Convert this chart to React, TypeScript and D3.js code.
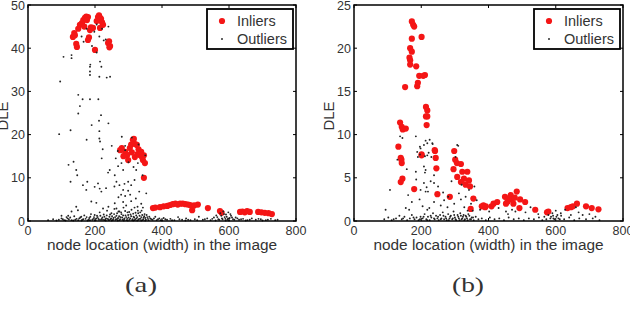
import React from "react";
import * as d3 from "d3";

const xTicks = [0, 200, 400, 600, 800];
const yTicksA = [0, 10, 20, 30, 40, 50];
const yTicksB = [0, 5, 10, 15, 20, 25];
const xLabel = "node location (width) in the image";
const yLabel = "DLE";
const legendLabels = ["Inliers", "Outliers"];

type P = [number, number];

const inliersA: P[] = [
  [134, 42.6], [138, 43.5], [146, 40.3], [144, 41], [140, 43], [150, 44.5], [155, 45.4], [161, 45.8], [165, 46.5],
  [170, 47], [174, 47.3], [179, 47.2], [185, 44.2], [188, 44.8], [179, 41.9], [182, 42.5], [194, 44.7], [200, 39.6],
  [209, 47.2], [212, 47.6], [215, 47], [218, 46.8], [221, 46], [224, 45.4], [215, 44.7], [239, 41.2], [242, 41.6],
  [245, 40.5], [243, 40.2], [168, 45], [176, 46.5], [205, 46.3],
  [275, 16.4], [280, 16.9], [290, 16], [296, 15.3], [304, 16.9], [308, 17.7], [313, 18.8], [316, 19], [320, 17.8],
  [325, 17.6], [330, 16.6], [334, 15.3], [338, 16], [343, 14.1], [346, 15.2], [349, 13.4], [299, 14.1], [319, 14.8],
  [327, 15.5], [310, 15.9], [346, 10], [285, 15], [340, 14.8],
  [373, 3.0], [380, 3.1], [394, 3.2], [405, 3.4], [416, 3.5], [424, 3.7], [432, 3.9], [440, 4.0], [447, 3.8],
  [454, 4.0], [462, 4.0], [470, 3.9], [478, 3.8], [484, 3.7], [490, 2.5], [496, 3.6], [507, 3.8], [537, 3.0],
  [573, 2.3], [578, 1.9], [633, 2.1], [640, 2.2], [647, 2.0], [654, 2.3], [662, 2.1], [687, 2.1], [697, 2.0],
  [707, 1.9], [718, 1.8], [728, 1.6],
];

const outliersA: P[] = [
  [96, 32.3], [106, 38], [130, 38.4], [130, 37.7], [160, 42.7], [166, 41.5], [175, 44.5], [186, 36.2], [185, 35.7],
  [185, 34.6], [185, 33.8], [191, 40.5], [198, 43.8], [205, 45.5], [205, 39], [213, 42.7], [221, 44.5], [226, 41.8],
  [232, 42], [240, 45], [215, 36.9], [219, 35.7], [213, 33.4], [235, 33.2], [245, 33.4], [150, 29.2], [163, 28.2],
  [185, 28.2], [210, 28.2], [155, 26.6], [150, 24.9], [218, 24.5], [212, 23.2], [240, 22.6], [190, 22.2], [127, 21],
  [93, 20.1], [213, 20.8], [175, 18.8], [213, 19.1], [215, 18.4], [250, 17.4], [223, 16.6], [220, 14.5], [121, 13],
  [136, 13.7], [144, 11.8], [147, 10.6], [127, 9.1], [164, 8.3], [177, 9.1], [174, 7.2], [199, 7.9], [209, 8.7],
  [214, 7.5], [219, 6.8], [233, 7.6], [239, 11.2], [244, 11.8], [259, 10.6], [269, 12.7], [279, 13.4], [284, 11.8],
  [264, 9.1], [273, 8.3], [288, 8.6], [299, 9.1], [284, 7.2], [299, 7.0], [308, 8.3], [318, 9.5], [323, 11.8],
  [328, 13.4], [342, 10.6], [353, 6.4], [189, 4.5], [204, 4.2], [224, 2.9], [240, 3.3], [259, 4.1], [264, 2.9],
  [273, 2.2], [284, 4.4], [293, 3.6], [308, 4.6], [318, 3.1], [328, 2.4], [338, 4.0], [149, 2.5], [130, 2.2],
  [144, 3.3], [100, 1.2], [120, 1.2], [270, 5.5], [290, 5.8], [305, 6.1], [332, 6.8], [262, 14.5], [268, 16.2],
  [290, 17.4], [310, 19.3], [330, 17.7], [300, 13.6], [315, 12.5], [350, 15.2], [258, 8.0], [278, 6.1], [322, 5.2],
  [343, 3.1], [280, 19.5], [290, 16.4],
  [92, 0.3], [100, 0.6], [108, 0.2], [115, 0.9], [122, 0.4], [130, 0.2], [138, 1.1], [145, 0.5], [150, 0.2],
  [156, 0.8], [162, 0.3], [168, 1.3], [172, 0.5], [178, 0.1], [183, 0.7], [188, 1.6], [192, 0.3], [197, 0.9],
  [202, 0.2], [206, 1.2], [210, 0.5], [214, 2.0], [218, 0.3], [222, 0.8], [226, 1.5], [229, 0.2], [233, 0.6],
  [236, 2.4], [240, 0.3], [243, 1.0], [246, 0.4], [249, 1.8], [252, 0.2], [255, 0.7], [258, 2.8], [261, 0.3],
  [264, 1.2], [267, 0.5], [270, 2.2], [273, 0.2], [276, 0.9], [279, 1.6], [282, 0.3], [285, 3.1], [288, 0.6],
  [291, 1.3], [294, 0.2], [297, 2.0], [300, 0.8], [303, 0.3], [306, 1.5], [309, 2.6], [312, 0.4], [315, 1.0],
  [318, 0.2], [321, 1.9], [324, 0.6], [327, 3.3], [330, 0.3], [333, 1.2], [336, 0.5], [339, 2.4], [342, 0.2],
  [345, 0.8], [348, 1.6], [352, 0.3], [356, 0.9], [360, 0.2], [365, 0.6], [372, 0.3], [380, 1.0], [388, 0.4],
  [396, 0.2], [405, 0.7], [415, 0.3], [425, 0.5], [437, 0.2], [448, 0.9], [460, 0.3], [472, 0.6], [485, 0.2],
  [498, 0.4], [510, 1.0], [522, 0.3], [535, 0.6], [545, 0.2], [555, 0.8], [562, 1.3], [568, 0.4], [574, 1.8],
  [579, 0.6], [583, 2.2], [587, 0.9], [591, 1.5], [595, 0.3], [598, 2.0], [602, 0.7], [606, 1.2], [612, 0.4],
  [620, 0.8], [630, 0.3], [642, 0.5], [655, 0.2], [668, 0.6], [680, 0.3], [695, 0.4], [710, 0.2], [725, 0.5],
  [738, 0.2], [112, 0.1], [135, 0.1], [160, 0.1], [185, 0.2], [200, 0.1], [232, 0.1], [250, 0.1], [268, 0.1],
  [286, 0.1], [298, 0.1], [314, 0.1], [326, 0.1], [338, 0.1], [350, 0.1], [400, 0.1], [470, 0.1], [560, 0.1],
  [590, 0.1], [600, 0.1], [650, 0.1], [700, 0.1],
  [60, 0.2], [75, 0.4], [85, 0.1], [104, 0.4], [118, 0.6], [126, 0.8], [141, 0.3], [153, 0.6], [159, 1.0],
  [165, 0.4], [175, 0.9], [181, 0.3], [186, 1.0], [195, 0.5], [199, 1.4], [204, 0.6], [208, 0.9], [212, 0.3],
  [216, 1.2], [220, 0.5], [224, 0.3], [228, 1.0], [231, 0.4], [235, 1.3], [238, 0.5], [242, 0.2], [245, 1.5],
  [248, 0.6], [251, 1.1], [254, 0.3], [257, 1.6], [260, 0.9], [263, 0.4], [266, 1.8], [269, 0.7], [272, 1.1],
  [275, 0.4], [278, 2.0], [281, 0.8], [284, 1.3], [287, 0.4], [290, 2.3], [293, 0.9], [296, 0.5], [299, 1.4],
  [302, 2.1], [305, 0.6], [308, 1.1], [311, 0.2], [314, 1.7], [317, 0.8], [320, 0.4], [323, 1.3], [326, 0.9],
  [329, 1.8], [332, 0.5], [335, 2.0], [338, 0.9], [341, 1.4], [344, 0.4], [347, 1.1], [350, 0.7], [354, 1.4],
  [358, 0.5], [362, 1.0], [368, 0.4], [376, 0.6], [384, 0.2], [392, 0.6], [410, 0.4], [430, 0.2], [452, 0.4],
  [478, 0.3], [505, 0.2], [528, 0.4], [550, 0.5], [565, 0.9], [571, 0.3], [577, 1.2], [581, 0.4], [585, 1.6],
  [589, 0.5], [593, 1.0], [597, 0.6], [604, 1.6], [609, 0.8], [616, 0.3], [625, 0.6], [636, 0.4], [662, 0.3],
  [688, 0.5], [716, 0.3], [745, 0.3],
];

const inliersB: P[] = [
  [172, 23.1], [176, 22.7], [179, 22.5], [172, 21.1], [201, 21.3], [167, 20], [172, 19.6], [165, 18.9], [167, 18.6],
  [167, 18.1], [185, 17.9], [152, 15.5], [188, 15.6], [190, 16], [194, 16.8], [211, 16.9], [206, 16.8], [214, 13.2],
  [218, 12.8], [214, 12.1], [216, 11.1], [218, 12.1], [137, 11.4], [142, 10.9], [145, 10.6], [154, 10.7], [132, 8.6],
  [201, 7.6], [241, 8.1], [298, 8.1], [139, 7.3], [141, 7.1], [142, 6.7], [144, 4.9], [139, 4.5], [179, 3.7],
  [201, 7.7], [240, 8.2], [243, 7.3], [245, 6.1], [248, 3.1], [301, 7.1], [296, 6.0], [306, 6.7], [318, 6.6],
  [322, 5.7], [337, 5.7], [342, 4.7], [327, 4.9], [318, 4.5], [332, 4.2], [345, 4.0], [307, 5.1], [355, 2.6],
  [285, 2.8], [347, 1.4], [380, 1.7], [385, 1.8], [392, 1.7], [409, 1.7], [390, 1.6], [415, 2.0], [426, 2.2],
  [449, 2.8], [456, 2.2], [466, 3.0], [469, 2.5], [474, 2.0], [484, 3.4], [452, 2.0], [494, 2.5], [509, 2.2],
  [492, 1.5], [539, 1.3], [574, 1.0], [578, 1.1], [635, 1.5], [645, 1.6], [651, 1.7], [663, 2.0], [690, 1.7],
  [707, 1.5], [727, 1.35], [460, 2.6], [478, 2.7],
];

const outliersB: P[] = [
  [144, 9.6], [213, 9.3], [225, 9.4], [233, 9.0], [208, 8.8], [198, 8.4], [188, 8.0], [190, 7.4], [211, 7.5],
  [222, 7.9], [230, 7.4], [129, 7.1], [157, 6.0], [184, 5.7], [208, 6.3], [213, 5.9], [211, 5.6], [238, 5.3],
  [228, 4.6], [238, 4.4], [208, 4.4], [216, 3.9], [198, 3.6], [213, 3.4], [220, 3.4], [107, 3.6], [161, 3.0],
  [94, 1.3], [154, 1.5], [164, 1.3], [204, 1.7], [218, 1.3], [224, 1.5], [238, 2.2], [258, 1.8], [268, 2.4],
  [278, 1.6], [298, 2.0], [312, 3.2], [318, 2.5], [307, 8.8], [302, 7.4], [328, 1.6], [338, 1.2], [348, 2.0],
  [353, 1.2], [342, 3.6], [358, 4.0], [184, 9.8], [196, 8.6], [218, 9.0], [234, 8.9], [196, 7.7], [218, 7.6],
  [137, 9.8], [310, 8.7], [185, 4.8], [195, 2.5], [172, 2.2], [250, 4.0], [265, 3.3], [280, 2.8], [290, 4.6],
  [320, 4.2], [332, 2.8], [365, 2.4], [375, 1.3], [402, 1.1], [430, 1.5], [452, 1.1], [458, 0.8], [470, 1.3],
  [480, 1.1], [510, 1.0], [525, 1.6], [548, 0.8], [592, 0.6], [600, 1.2], [615, 0.9], [628, 1.3], [645, 0.7],
  [660, 1.6], [668, 1.0], [680, 0.7], [700, 0.8], [718, 0.5],
  [90, 0.2], [102, 0.4], [112, 0.1], [125, 0.3], [135, 0.6], [142, 0.2], [150, 0.5], [158, 0.1], [166, 0.3],
  [172, 0.7], [180, 0.2], [186, 0.4], [192, 0.1], [198, 0.5], [204, 0.3], [210, 0.8], [215, 0.2], [220, 0.5],
  [225, 0.1], [230, 0.4], [235, 0.9], [240, 0.2], [244, 0.6], [248, 0.3], [252, 0.1], [256, 0.7], [260, 0.3],
  [264, 1.0], [268, 0.2], [272, 0.5], [276, 0.1], [280, 0.8], [284, 0.3], [288, 0.6], [292, 0.2], [296, 1.1],
  [300, 0.4], [304, 0.1], [308, 0.7], [312, 0.3], [316, 0.9], [320, 0.2], [324, 0.5], [328, 0.1], [332, 0.6],
  [336, 0.3], [340, 0.8], [345, 0.2], [350, 0.4], [356, 0.1], [362, 0.5], [370, 0.2], [380, 0.3], [392, 0.1],
  [404, 0.4], [418, 0.2], [432, 0.3], [446, 0.1], [460, 0.4], [475, 0.2], [490, 0.3], [505, 0.1], [520, 0.3],
  [535, 0.2], [550, 0.4], [560, 0.1], [566, 0.5], [572, 0.2], [578, 0.7], [584, 0.3], [590, 0.9], [596, 0.2],
  [602, 0.5], [608, 0.3], [616, 0.6], [625, 0.2], [640, 0.4], [655, 0.1], [670, 0.3], [690, 0.2], [710, 0.3],
  [730, 0.1],
  [118, 0.2], [146, 0.3], [177, 0.4], [196, 0.2], [207, 0.5], [218, 0.1], [228, 0.6], [238, 0.3], [250, 0.5],
  [258, 0.2], [266, 0.6], [274, 0.3], [282, 0.1], [286, 0.5], [294, 0.3], [298, 0.7], [302, 0.2], [310, 0.5],
  [314, 0.1], [318, 0.6], [322, 0.3], [326, 0.7], [330, 0.2], [334, 0.5], [338, 0.1], [343, 0.6], [348, 0.2],
  [354, 0.4], [586, 0.5], [593, 0.3], [605, 0.7], [612, 0.2],
];

const FONT = "'Liberation Sans', Arial, Helvetica, sans-serif";

function Panel(props: {
  left: number; right: number; top: number; bottom: number;
  yMax: number; yTicks: number[]; inliers: P[]; outliers: P[]; tag: string; tagX: number;
}) {
  const { left, right, top, bottom, yMax, yTicks, inliers, outliers, tag, tagX } = props;
  const x = d3.scaleLinear().domain([0, 800]).range([left, right]);
  const y = d3.scaleLinear().domain([0, yMax]).range([bottom, top]);
  const tl = 3;
  const lx = right - 89;
  const ly = top + 4;
  return (
    <g>
      <rect x={left} y={top} width={right - left} height={bottom - top} fill="#fff" />
      {inliers.map((d, i) => (
        <circle key={"i" + i} cx={x(d[0])} cy={y(d[1])} r={3.1} fill="#f41616" />
      ))}
      {outliers.map((d, i) => (
        <circle key={"o" + i} cx={x(d[0])} cy={y(d[1])} r={0.95} fill="#222" />
      ))}
      <rect x={left} y={top} width={right - left} height={bottom - top} fill="none" stroke="#000" strokeWidth={1.5} />
      {xTicks.map((t) => (
        <g key={"xt" + t}>
          <line x1={x(t)} x2={x(t)} y1={bottom} y2={bottom - tl} stroke="#000" />
          <line x1={x(t)} x2={x(t)} y1={top} y2={top + tl} stroke="#000" />
          <text x={x(t)} y={bottom + 14} textAnchor="middle" fontSize={12.5} fill="#333" fontFamily={FONT}>{t}</text>
        </g>
      ))}
      {yTicks.map((t) => (
        <g key={"yt" + t}>
          <line x1={left} x2={left + tl} y1={y(t)} y2={y(t)} stroke="#000" />
          <line x1={right} x2={right - tl} y1={y(t)} y2={y(t)} stroke="#000" />
          <text x={left - 3} y={y(t) + 4.5} textAnchor="end" fontSize={12.5} fill="#333" fontFamily={FONT}>{t}</text>
        </g>
      ))}
      <text x={(left + right) / 2} y={bottom + 29} textAnchor="middle" fontSize={15.4} fill="#333" fontFamily={FONT}>{xLabel}</text>
      <text transform={`translate(${left - 20},${(top + bottom) / 2 + 3}) rotate(-90)`} textAnchor="middle" fontSize={15} fill="#333" fontFamily={FONT}>{yLabel}</text>
      <text x={tagX} y={292} textAnchor="middle" fontSize={22} textLength={32} lengthAdjust="spacingAndGlyphs" fill="#333" fontFamily="'Liberation Serif', 'Times New Roman', serif">{tag}</text>
      <rect x={lx} y={ly} width={86} height={40} fill="#fff" stroke="#000" strokeWidth={1.8} />
      <circle cx={lx + 15} cy={ly + 12} r={3.1} fill="#f41616" />
      <text x={lx + 30} y={ly + 17} fontSize={14.5} fill="#333" fontFamily={FONT}>{legendLabels[0]}</text>
      <circle cx={lx + 15} cy={ly + 30} r={0.95} fill="#222" />
      <text x={lx + 30} y={ly + 35} fontSize={14.5} fill="#333" fontFamily={FONT}>{legendLabels[1]}</text>
    </g>
  );
}

export default function App() {
  return (
    <svg width={630} height={309} style={{ position: "absolute", left: 0, top: 0, background: "#fff" }}>
      <rect x={0} y={0} width={630} height={309} fill="#fff" />
      <Panel left={28} right={296} top={5} bottom={221} yMax={50} yTicks={yTicksA} inliers={inliersA} outliers={outliersA} tag="(a)" tagX={141} />
      <Panel left={354} right={623} top={5} bottom={221} yMax={25} yTicks={yTicksB} inliers={inliersB} outliers={outliersB} tag="(b)" tagX={468} />
    </svg>
  );
}
